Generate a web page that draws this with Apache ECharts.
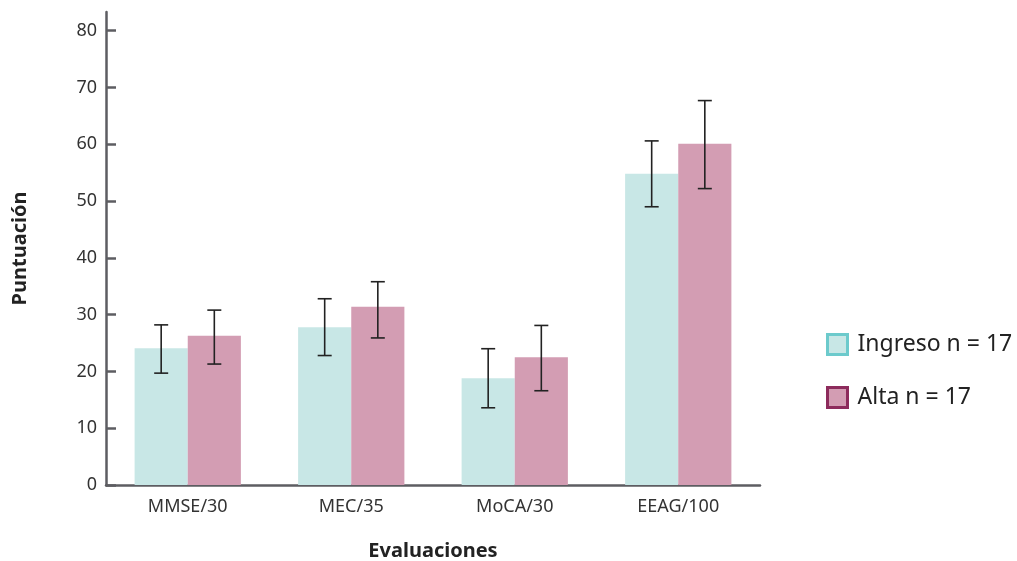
<!DOCTYPE html>
<html>
<head>
<meta charset="utf-8">
<script src="https://cdn.jsdelivr.net/npm/echarts@6/dist/echarts.min.js"></script>
<style>
	html, body {margin: 0; padding: 0; background: #fff;}
	#chart {width: 1017px; height: 561px;}
</style>
</head>
<body>
<div id="chart"></div>
<script>
// datos
var categorias = ['MMSE/30', 'MEC/35', 'MoCA/30', 'EEAG/100'];
var ingreso = [24.1, 27.8, 18.8, 54.8];
var ingresoBajo = [19.7, 22.8, 13.6, 49.0];
var ingresoAlto = [28.2, 32.8, 24.0, 60.6];
var alta = [26.3, 31.4, 22.5, 60.1];
var altaBajo = [21.3, 25.9, 16.6, 52.2];
var altaAlto = [30.8, 35.8, 28.1, 67.7];
var marcasY = [0, 10, 20, 30, 40, 50, 60, 70, 80];

var fuente = 'Noto Sans';
var gris = '#5d5d62';
var GAP = 0.35;

function barraError(lado, bajo, alto) {
	return {
		type: 'custom',
		z: 10,
		silent: true,
		data: categorias.map(function (c, i) { return [i, bajo[i], alto[i]]; }),
		renderItem: function (params, api) {
			var ancho = api.size([1, 0])[0];
			var barra = ancho * (1 - GAP) / 2;
			var p1 = api.coord([api.value(0), api.value(1)]);
			var p2 = api.coord([api.value(0), api.value(2)]);
			var x = p1[0] + lado * barra / 2;
			var c = 7;
			var estilo = {stroke: '#222', lineWidth: 1.6};
			return {
				type: 'group',
				children: [
					{type: 'line', shape: {x1: x, y1: p1[1], x2: x, y2: p2[1]}, style: estilo},
					{type: 'line', shape: {x1: x - c, y1: p1[1], x2: x + c, y2: p1[1]}, style: estilo},
					{type: 'line', shape: {x1: x - c, y1: p2[1], x2: x + c, y2: p2[1]}, style: estilo}
				]
			};
		}
	};
}

var chart = echarts.init(document.getElementById('chart'));
var option = {
	animation: false,
	textStyle: {fontFamily: fuente},
	grid: {left: 106, right: 257, top: 12, bottom: 76, outerBoundsMode: 'none'},
	legend: {
		orient: 'vertical',
		left: 821,
		top: 328,
		itemWidth: 20,
		itemHeight: 20,
		itemGap: 30,
		icon: 'rect',
		textStyle: {fontSize: 23, color: '#222', fontFamily: fuente, padding: [0, 0, 0, 5]},
		data: [
			{name: 'Ingreso n = 17', itemStyle: {color: '#c8e7e6', borderColor: '#6ccacc', borderWidth: 3}},
			{name: 'Alta n = 17', itemStyle: {color: '#d39db3', borderColor: '#8d2b5c', borderWidth: 3}}
		]
	},
	xAxis: {
		type: 'category',
		data: categorias,
		name: 'Evaluaciones',
		nameLocation: 'middle',
		nameGap: 56,
		nameTextStyle: {fontSize: 20, fontWeight: 'bold', color: '#222'},
		axisLine: {lineStyle: {color: gris, width: 2.5}},
		axisTick: {inside: true, length: 10, lineStyle: {color: gris, width: 2.5}},
		axisLabel: {fontSize: 18, color: '#333', margin: 13}
	},
	yAxis: {
		type: 'value',
		min: 0,
		max: 83.3,
		name: 'Puntuación',
		nameLocation: 'middle',
		nameGap: 76,
		nameRotate: 90,
		nameTextStyle: {fontSize: 20, fontWeight: 'bold', color: '#222'},
		splitLine: {show: false},
		axisLine: {show: true, lineStyle: {color: gris, width: 2.5}},
		axisTick: {show: true, inside: true, length: 10, customValues: marcasY, lineStyle: {color: gris, width: 2.5}},
		axisLabel: {fontSize: 18, color: '#333', margin: 9, customValues: marcasY}
	},
	series: [
		{
			name: 'Ingreso n = 17',
			type: 'bar',
			data: ingreso,
			barGap: 0,
			barCategoryGap: (GAP * 100) + '%',
			itemStyle: {color: '#c8e7e6'}
		},
		{
			name: 'Alta n = 17',
			type: 'bar',
			data: alta,
			barGap: 0,
			barCategoryGap: (GAP * 100) + '%',
			itemStyle: {color: '#d39db3'}
		},
		barraError(-1, ingresoBajo, ingresoAlto),
		barraError(1, altaBajo, altaAlto)
	]
};
chart.setOption(option);
</script>
</body>
</html>
